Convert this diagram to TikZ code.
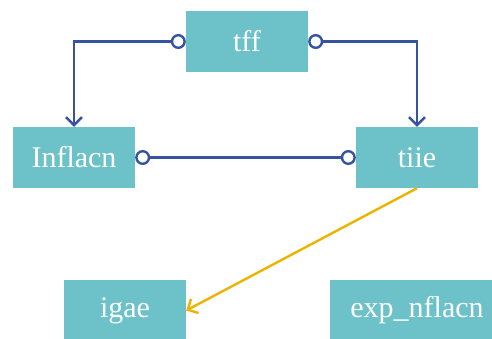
\documentclass[tikz,border=0pt]{standalone}
\usepackage{fontspec}
\setmainfont{Liberation Serif}
\usetikzlibrary{arrows.meta}
\definecolor{boxc}{HTML}{6CC2C8}
\definecolor{linkc}{HTML}{3553A0}
\definecolor{yel}{HTML}{EBB400}
\begin{document}
\begin{tikzpicture}[x=1pt,y=-1pt,
  box/.style={fill=boxc, text=white, minimum width=122pt, minimum height=61pt,
    inner sep=0pt, font=\fontsize{30}{32}\selectfont},
  link/.style={draw=linkc, line width=2.4pt},
  yl/.style={draw=yel, line width=2.4pt, -{Straight Barb[length=8pt,width=16pt]}},
]
\useasboundingbox (0,0) rectangle (492,338);
\node[box] (tff) at (247,41.5) {tff};
\node[box] (infl) at (74,157.5) {Inflacn};
\node[box] (tiie) at (417,157.5) {tiie};
\node[box] (igae) at (125,310.5) {igae};
\node[box, minimum width=174pt] (exp) at (417,310.5) {exp\_nflacn};
\draw[link, {Circle[open,length=15pt]}-{Straight Barb[length=8pt,width=16pt]}] (tff.west) -| (infl.north);
\draw[link, {Circle[open,length=15pt]}-{Straight Barb[length=8pt,width=16pt]}] (tff.east) -| (tiie.north);
\draw[link, {Circle[open,length=15pt]}-{Circle[open,length=15pt]}] (infl.east) -- (tiie.west);
\draw[yl] (tiie.south) -- (igae.east);
\end{tikzpicture}
\end{document}
